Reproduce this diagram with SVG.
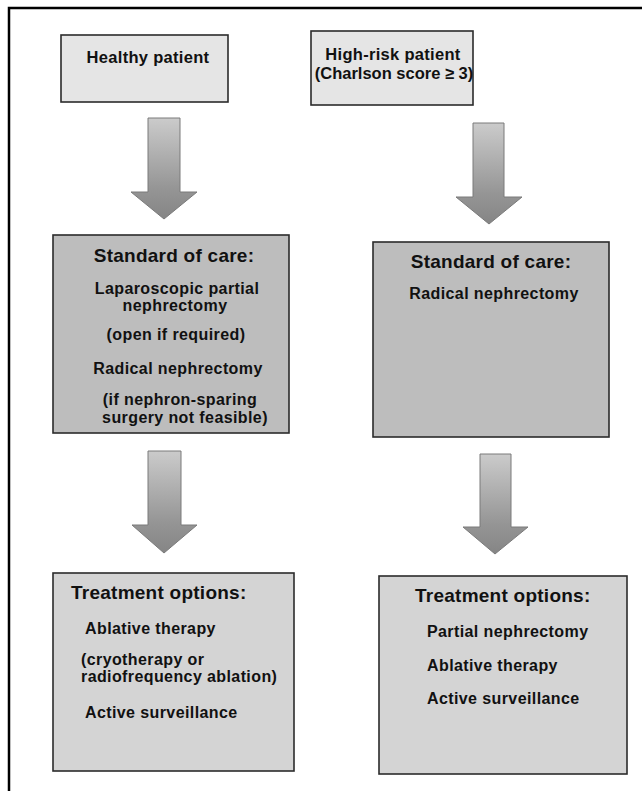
<svg xmlns="http://www.w3.org/2000/svg" width="642" height="791" viewBox="0 0 642 791">
<defs>
<linearGradient id="ag" x1="0" y1="0" x2="0" y2="1">
<stop offset="0" stop-color="#cbcbcb"/>
<stop offset="0.7" stop-color="#959595"/>
<stop offset="1" stop-color="#858585"/>
</linearGradient>
<style>
.box{stroke:#2b2b2b;stroke-width:1.6}
.top{fill:#e5e5e5}
.mid{fill:#bdbdbd}
.bot{fill:#d4d4d4}
.arrow{fill:url(#ag);stroke:#7a7a7a;stroke-width:1}
text{font-family:"Liberation Sans",Arial,sans-serif;font-weight:bold;fill:#111}
.h{font-size:19px;letter-spacing:0.25px}
.b{font-size:16px;letter-spacing:0.4px}
.t{font-size:16.5px;letter-spacing:0.3px}
.c{text-anchor:middle}
</style>
</defs>
<rect width="642" height="791" fill="#ffffff"/>
<path d="M9 791 V8 H642" fill="none" stroke="#000" stroke-width="2.5"/>

<g id="healthy">
<rect class="box top" x="61" y="35" width="167" height="67"/>
<text class="t c" x="148" y="63">Healthy patient</text>
</g>
<g id="highrisk">
<rect class="box top" x="311" y="31" width="162" height="74"/>
<text class="t c" x="393" y="60">High-risk patient</text>
<text class="t c" x="394" y="79" style="letter-spacing:0px">(Charlson score ≥ 3)</text>
</g>

<g id="soc-left">
<rect class="box mid" x="53" y="235" width="236" height="198"/>
<text class="h c" x="174" y="262">Standard of care:</text>
<text class="b c" x="177" y="294">Laparoscopic partial</text>
<text class="b c" x="175" y="311">nephrectomy</text>
<text class="b c" x="176" y="340">(open if required)</text>
<text class="b c" x="178" y="374">Radical nephrectomy</text>
<text class="b c" x="180" y="405">(if nephron-sparing</text>
<text class="b c" x="185" y="423">surgery not feasible)</text>
</g>
<g id="soc-right">
<rect class="box mid" x="373" y="242" width="236" height="195"/>
<text class="h c" x="491" y="268">Standard of care:</text>
<text class="b c" x="494" y="299">Radical nephrectomy</text>
</g>

<g id="tx-left">
<rect class="box bot" x="53" y="573" width="241" height="198"/>
<text class="h" x="71" y="599">Treatment options:</text>
<text class="b" x="85" y="634">Ablative therapy</text>
<text class="b" x="81" y="665">(cryotherapy or</text>
<text class="b" x="81" y="682">radiofrequency ablation)</text>
<text class="b" x="85" y="718">Active surveillance</text>
</g>
<g id="tx-right">
<rect class="box bot" x="379" y="576" width="248" height="198"/>
<text class="h" x="415" y="602">Treatment options:</text>
<text class="b" x="427" y="637">Partial nephrectomy</text>
<text class="b" x="427" y="671">Ablative therapy</text>
<text class="b" x="427" y="704">Active surveillance</text>
</g>

<g id="connectors">
<polygon class="arrow" points="148,118 180,118 180,192 197,192 164,219 131,192 148,192"/>
<polygon class="arrow" points="473,123 504,123 504,197 522,197 489,224 456,197 473,197"/>
<polygon class="arrow" points="148,451 181,451 181,525 197,525 164,553 132,525 148,525"/>
<polygon class="arrow" points="480,454 511,454 511,527 528,527 495,554 463,527 480,527"/>
</g>
</svg>
